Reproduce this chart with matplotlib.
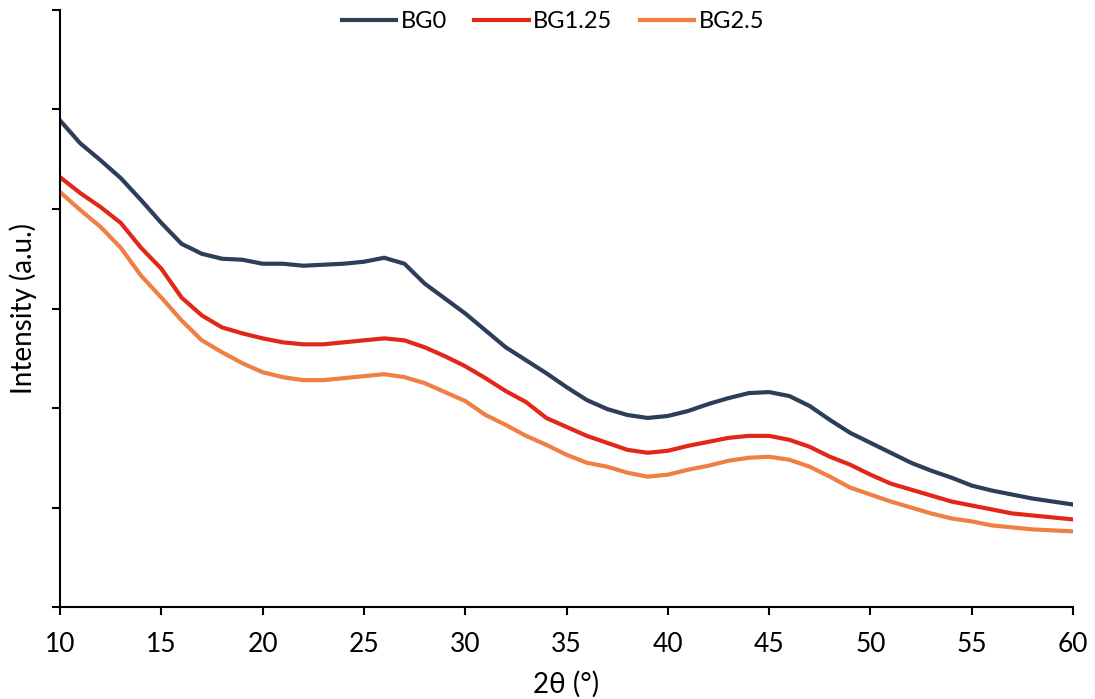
# -*- coding: utf-8 -*-
"""
XRD patterns of BG0, BG1.25 and BG2.5 glasses
"""

import matplotlib
matplotlib.use("Agg")
import matplotlib.pyplot as plt
import numpy as np


# Data (1 degree steps)
two_theta = list(range(10, 61))

bg0 = [4.89, 4.66, 4.49, 4.31, 4.09, 3.86, 3.65, 3.55, 3.50, 3.49,
       3.45, 3.45, 3.43, 3.44, 3.45, 3.47, 3.51, 3.45, 3.25, 3.10,
       2.95, 2.78, 2.61, 2.48, 2.35, 2.21, 2.08, 1.99, 1.93, 1.90,
       1.92, 1.97, 2.04, 2.10, 2.15, 2.16, 2.12, 2.02, 1.88, 1.75,
       1.65, 1.55, 1.45, 1.37, 1.30, 1.22, 1.17, 1.13, 1.09, 1.06,
       1.03]

bg125 = [4.32, 4.16, 4.02, 3.86, 3.61, 3.40, 3.11, 2.93, 2.81, 2.75,
         2.70, 2.66, 2.64, 2.64, 2.66, 2.68, 2.70, 2.68, 2.61, 2.52,
         2.42, 2.30, 2.17, 2.06, 1.90, 1.81, 1.72, 1.65, 1.58, 1.55,
         1.57, 1.62, 1.66, 1.70, 1.72, 1.72, 1.68, 1.61, 1.51, 1.43,
         1.33, 1.24, 1.18, 1.12, 1.06, 1.02, 0.98, 0.94, 0.92, 0.90,
         0.88]

bg25 = [4.17, 3.99, 3.82, 3.61, 3.33, 3.11, 2.88, 2.68, 2.56, 2.45,
        2.36, 2.31, 2.28, 2.28, 2.30, 2.32, 2.34, 2.31, 2.25, 2.16,
        2.07, 1.93, 1.83, 1.72, 1.63, 1.53, 1.45, 1.41, 1.35, 1.31,
        1.33, 1.38, 1.42, 1.47, 1.50, 1.51, 1.48, 1.41, 1.31, 1.20,
        1.13, 1.06, 1.00, 0.94, 0.89, 0.86, 0.82, 0.80, 0.78, 0.77,
        0.76]

labels = ['BG0', 'BG1.25', 'BG2.5']
colors = ['#2C3E58', '#E3261A', '#F07F42']


plt.rcParams['font.family'] = ['Lato', 'DejaVu Sans']

fig = plt.figure(figsize=(10.95, 6.99), dpi=100)
ax = fig.add_axes([0.0548, 0.1316, 0.9252, 0.8541])

for ys, lab, col in zip([bg0, bg125, bg25], labels, colors):
    ax.plot(two_theta, ys, color=col, lw=3, label=lab)

# Axes
ax.set_xlim(10, 60)
ax.set_ylim(0, 6)
ax.set_xticks(np.arange(10, 61, 5))
ax.set_yticks(np.arange(0, 7, 1))
ax.set_yticklabels([])
ax.tick_params(axis='both', direction='out', length=6, width=1.5, colors='black',
               labelsize=19)
ax.tick_params(axis='x', pad=12)

for side in ['top', 'right']:
    ax.spines[side].set_visible(False)
for side in ['left', 'bottom']:
    ax.spines[side].set_linewidth(1.5)

ax.set_xlabel('2θ (°)', fontsize=20, labelpad=10)
ax.set_ylabel('Intensity (a.u.)', fontsize=20, labelpad=7)

fig.legend(*ax.get_legend_handles_labels(), loc='upper center',
           bbox_to_anchor=(0.505, 1.008), ncol=3, frameon=False, borderpad=0.2,
           fontsize=17, handlelength=2.3, handletextpad=0.2, columnspacing=1.15)

plt.savefig("out.png", dpi=100)
